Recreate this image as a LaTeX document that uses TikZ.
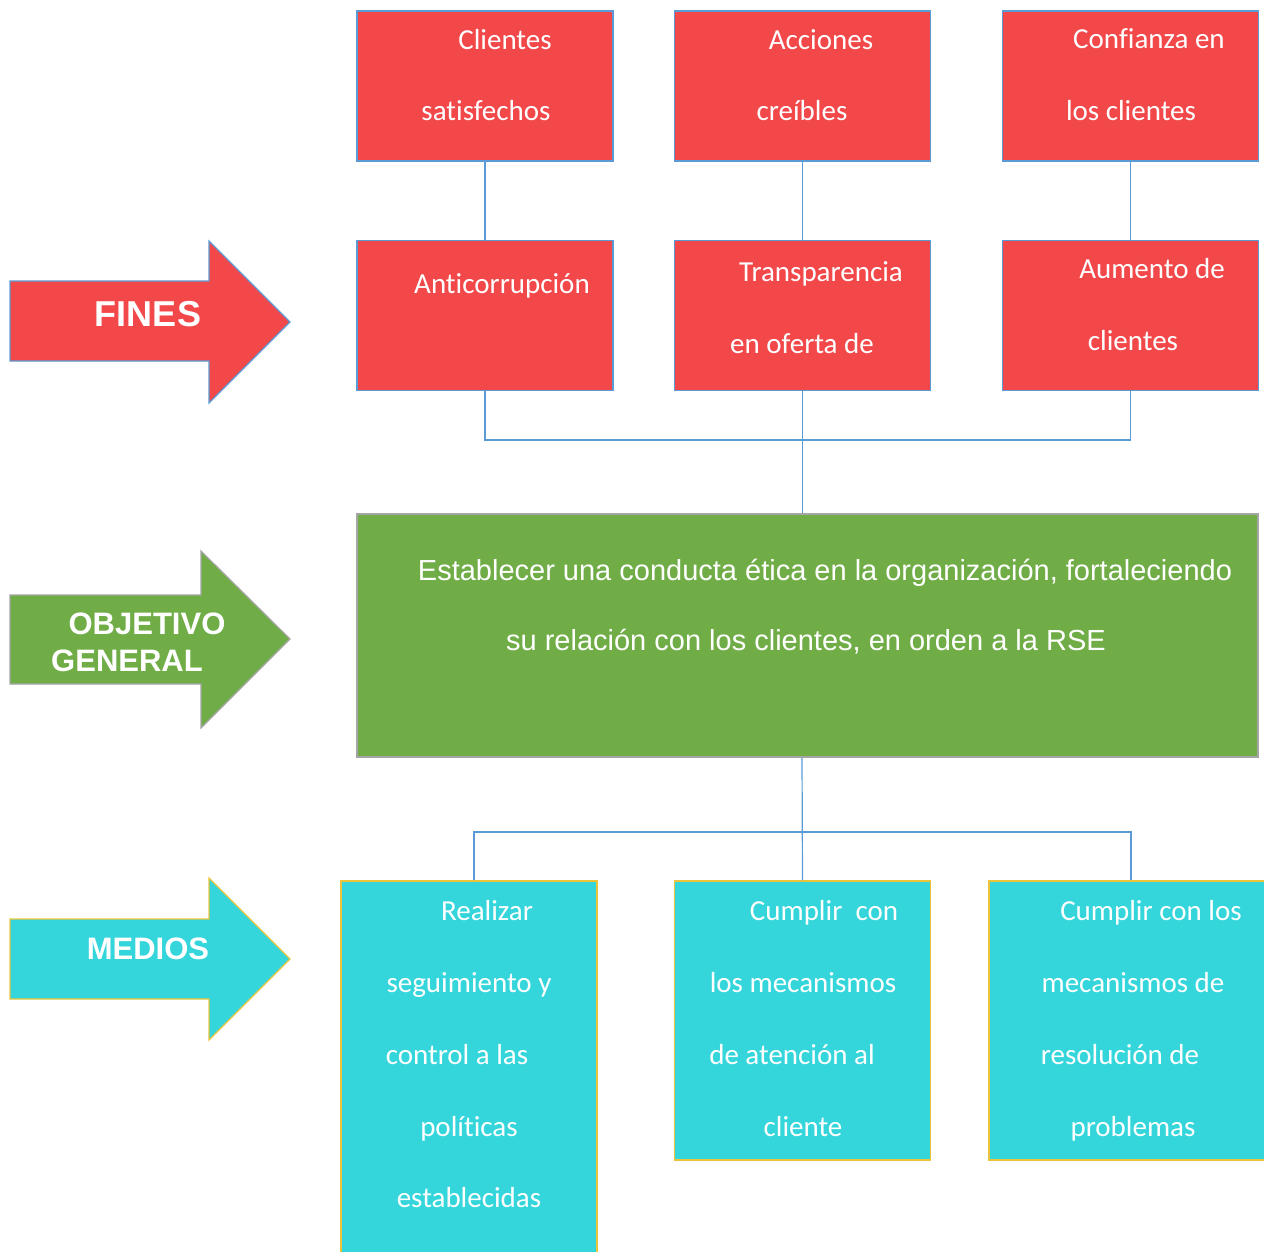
\documentclass[tikz,border=0pt]{standalone}
\usepackage{fontspec}
\setmainfont[Ligatures=NoCommon]{Carlito}
\newfontfamily\arialfont{Liberation Sans}
\definecolor{finred}{RGB}{242,72,74}
\definecolor{objgreen}{RGB}{112,173,71}
\definecolor{medcyan}{RGB}{52,214,219}
\definecolor{linkblue}{RGB}{91,155,213}
\definecolor{medgold}{RGB}{236,196,60}
\definecolor{objgrey}{RGB}{165,165,165}
\begin{document}
\begin{tikzpicture}[x=1pt,y=-1pt,
  redbox/.style={draw=linkblue,fill=finred,line width=1.2pt,minimum width=256pt,minimum height=150pt,inner sep=0},
  cyanbox/.style={draw=medgold,fill=medcyan,line width=1.2pt,minimum width=256pt,inner sep=0},
  conn/.style={draw=linkblue,line width=1.2pt},
  txt/.style={text=white,anchor=base,inner sep=0,font=\fontsize{29}{35}\selectfont},
  big/.style={text=white,anchor=base,inner sep=0,font=\arialfont\bfseries\fontsize{31}{36}\selectfont}]
\useasboundingbox (0,0) rectangle (1264,1252);
% arrows on the left
\filldraw[fill=finred,draw=linkblue,line width=1.2pt] (10,281) -- (209,281) -- (209,241) -- (290,322) -- (209,403) -- (209,361) -- (10,361) -- cycle;
\filldraw[fill=objgreen,draw=objgrey,line width=1.2pt] (10,595) -- (201,595) -- (201,551) -- (290,639) -- (201,728) -- (201,684) -- (10,684) -- cycle;
\filldraw[fill=medcyan,draw=medgold,line width=1.2pt] (10,919) -- (209,919) -- (209,878) -- (290,959) -- (209,1040) -- (209,999) -- (10,999) -- cycle;
\node[big,font=\arialfont\bfseries\fontsize{36}{40}\selectfont] (fines) at (148,326) {FINES};
\node[big] (objetivo) at (147,634) {OBJETIVO};
\node[big] (general) at (127,671) {GENERAL};
\node[big] (medios) at (148,959) {MEDIOS};
% fines
\node[redbox] (c1) at (485,86) {};
\node[redbox] (c2) at (802.5,86) {};
\node[redbox] (c3) at (1130.5,86) {};
\node[redbox] (a1) at (485,315.5) {};
\node[redbox] (a2) at (802.5,315.5) {};
\node[redbox] (a3) at (1130.5,315.5) {};
% objetivo general
\node[draw=objgrey,fill=objgreen,line width=1.2pt,minimum width=901pt,minimum height=243pt,inner sep=0] (obj) at (807.5,635.5) {};
% medios
\node[cyanbox,minimum height=380pt] (m1) at (469,1071) {};
\node[cyanbox,minimum height=279pt] (m2) at (802.5,1020.5) {};
\node[cyanbox,minimum width=284pt,minimum height=279pt] (m3) at (1131,1020.5) {};
% connectors
\foreach \i in {1,2,3}
\draw[conn] (c\i) -- (a\i);
\coordinate (up) at (802,440);
\draw[conn] (a1.south) |- (up) -| (a3.south);
\draw[conn] (a2.south) -- (a2.south |- obj.north);
\coordinate (down) at (802,832);
\coordinate (j1) at (474,832);
\draw[conn] (obj.south -| down) -- (m2.north);
\draw[conn] (j1 |- m1.north) -- (j1) -- (down) -| (m3.north);
% texts
\foreach \x/\y/\t [count=\i] in {505/50/Clientes, 486/121/satisfechos, 821/50/Acciones, 802/121/creíbles,
  1149/49/Confianza en, 1131/121/los clientes, 502/293/Anticorrupción, 821/281/Transparencia,
  802/353/en oferta de, 1152/279/Aumento de, 1133/350/clientes,
  487/920/Realizar, 469/992/seguimiento y, 457/1064/control a las, 469/1136/políticas, 469/1207/establecidas,
  824/920/Cumplir\ \ con, 803/992/los mecanismos, 792/1064/de atención al, 803/1136/cliente,
  1151/920/Cumplir con los, 1133/992/mecanismos de, 1120/1064/resolución de, 1133/1136/problemas}
\node[txt] (t\i) at (\x,\y) {\t};
\node[txt,font=\arialfont\fontsize{29}{35}\selectfont] (g1) at (825,580) {Establecer una conducta ética en la organización, fortaleciendo};
\node[txt,font=\arialfont\fontsize{29}{35}\selectfont] (g2) at (806,650) {su relación con los clientes, en orden a la RSE};
\end{tikzpicture}
\end{document}
